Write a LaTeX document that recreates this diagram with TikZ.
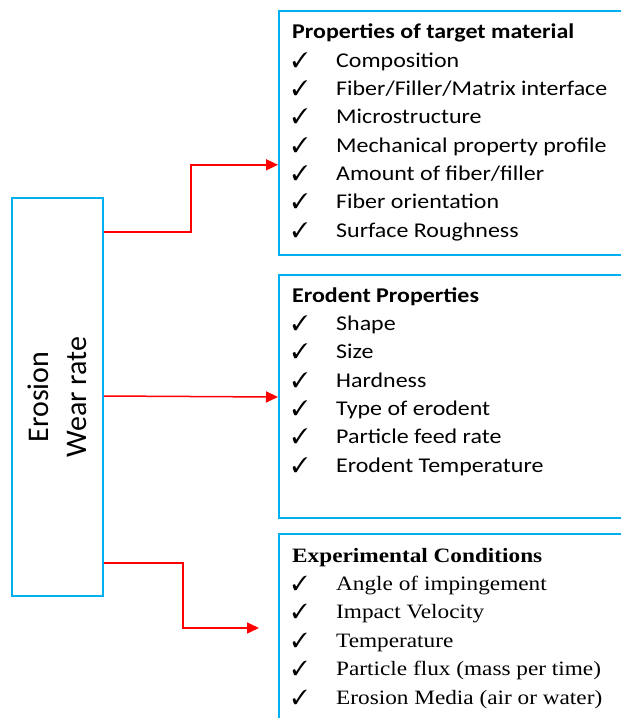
\documentclass[tikz,border=0pt]{standalone}
\usepackage{fontspec}
\usepackage{pifont}
\usetikzlibrary{arrows.meta}

\setmainfont{Carlito}
\newfontfamily\calib{Carlito}[FakeStretch=1.14]
\newfontfamily\romn{Liberation Serif}[FakeStretch=1.14]
\definecolor{boxblue}{RGB}{0,176,240}

\newcommand\chk[1]{\makebox[44pt][l]{\ding{51}}#1}

\begin{document}
\begin{tikzpicture}[x=1pt, y=-1pt,
  box/.style={draw=boxblue, line width=1.6pt, minimum width=360pt,
    anchor=north west, inner sep=0pt},
  list/.style={anchor=base west, align=left, inner sep=0pt},
  link/.style={draw=red, line width=1.5pt,
    -{Triangle[length=12pt,width=11pt]}}]

  \useasboundingbox (0,0) rectangle (621,718);
  \clip (0,0) rectangle (621,718);

  % left box
  \node[draw=boxblue, line width=1.6pt, minimum width=91pt,
    minimum height=398pt, inner sep=0pt] (rate) at (57.5,397) {};
  \node[rotate=90, align=center, font={\fontsize{30}{38}\selectfont}]
    (ratetext) at (rate.center) {Erosion\\Wear rate};

  % boxes on the right
  \node[box, minimum height=244pt] (target) at (278,10) {};
  \node[box, minimum height=243pt] (erodent) at (278,274) {};
  \node[box, minimum height=200pt] (cond) at (278,533) {};

  % lists, placed at the baseline of their last line
  \node[list, font={\calib\fontsize{21}{28.3}\selectfont}]
    (targetlist) at (292,237) {%
    \textbf{Properties of target material}\\
    \chk{Composition}\\
    \chk{Fiber/Filler/Matrix interface}\\
    \chk{Microstructure}\\
    \chk{Mechanical property profile}\\
    \chk{Amount of fiber/filler}\\
    \chk{Fiber orientation}\\
    \chk{Surface Roughness}};

  \node[list, font={\calib\fontsize{21}{28.3}\selectfont}]
    (erodentlist) at (292,472) {%
    \textbf{Erodent Properties}\\
    \chk{Shape}\\
    \chk{Size}\\
    \chk{Hardness}\\
    \chk{Type of erodent}\\
    \chk{Particle feed rate}\\
    \chk{Erodent Temperature}};

  \node[list, font={\romn\fontsize{20.4}{28.4}\selectfont}]
    (condlist) at (292,704) {%
    \textbf{Experimental Conditions}\\
    \chk{Angle of impingement}\\
    \chk{Impact Velocity}\\
    \chk{Temperature}\\
    \chk{Particle flux (mass per time)}\\
    \chk{Erosion Media (air or water)}};

  % connectors
  \coordinate (condtip) at (259,628);

  \draw[link] ([yshift=165pt]rate.east) -- ++(87,0)
    |- ([yshift=-32pt]target.west);
  \draw[link] ([yshift=1pt]rate.east) -- (rate.east -| erodent.west);
  \draw[link] ([yshift=-166pt]rate.east) -- ++(79,0) |- (condtip);

\end{tikzpicture}
\end{document}
